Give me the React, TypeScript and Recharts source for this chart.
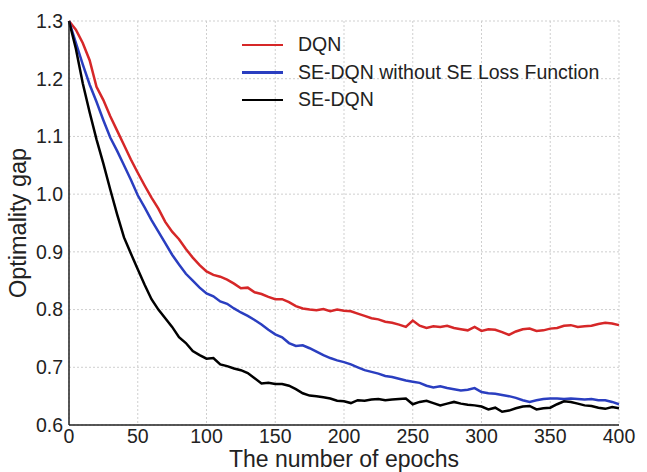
import {
  LineChart,
  Line,
  XAxis,
  YAxis,
  CartesianGrid,
} from "recharts";

const epochs = Array.from({ length: 81 }, (_, i) => i * 5);

const dqn = [
  1.3, 1.285, 1.262, 1.232, 1.186, 1.163, 1.135, 1.11, 1.085, 1.06, 1.037, 1.015, 0.994, 0.975, 0.952, 0.935,
  0.922, 0.905, 0.89, 0.877, 0.866, 0.86, 0.857, 0.852, 0.845, 0.837, 0.838, 0.83, 0.827, 0.822, 0.818, 0.818,
  0.813, 0.806, 0.802, 0.8, 0.799, 0.801, 0.797, 0.8, 0.798, 0.797, 0.793, 0.789, 0.785, 0.783, 0.779, 0.777,
  0.774, 0.77, 0.781, 0.772, 0.768, 0.771, 0.77, 0.772, 0.768, 0.766, 0.764, 0.77, 0.763, 0.766, 0.765, 0.761,
  0.756, 0.762, 0.766, 0.767, 0.763, 0.764, 0.767, 0.768, 0.772, 0.773, 0.77, 0.771, 0.772, 0.775, 0.777, 0.776,
  0.773,
];

const seDqnNoLoss = [
  1.3, 1.262, 1.225, 1.19, 1.16, 1.128, 1.098, 1.075, 1.05, 1.025, 0.998, 0.977, 0.955, 0.935, 0.915, 0.895,
  0.878, 0.862, 0.85, 0.838, 0.828, 0.823, 0.814, 0.81, 0.802, 0.795, 0.789, 0.782, 0.774, 0.765, 0.757, 0.752,
  0.742, 0.737, 0.738, 0.733, 0.727, 0.721, 0.716, 0.712, 0.709, 0.705, 0.7, 0.695, 0.692, 0.689, 0.685, 0.683,
  0.68, 0.677, 0.675, 0.673, 0.668, 0.665, 0.667, 0.664, 0.662, 0.66, 0.661, 0.664, 0.657, 0.655, 0.654, 0.652,
  0.65, 0.647, 0.643, 0.64, 0.643, 0.645, 0.646, 0.646, 0.645, 0.646, 0.645, 0.644, 0.645, 0.643, 0.643, 0.64,
  0.636,
];

const seDqn = [
  1.3, 1.252, 1.192, 1.142, 1.095, 1.053, 1.008, 0.965, 0.925, 0.897, 0.87, 0.843, 0.818, 0.8, 0.785, 0.77,
  0.752, 0.742, 0.728, 0.721, 0.715, 0.716, 0.705, 0.702, 0.698, 0.695, 0.69, 0.681, 0.672, 0.673, 0.671, 0.671,
  0.668, 0.662, 0.655, 0.651, 0.65, 0.648, 0.646, 0.642, 0.641, 0.638, 0.643, 0.642, 0.644, 0.645, 0.643, 0.644,
  0.645, 0.646, 0.636, 0.64, 0.642, 0.638, 0.634, 0.637, 0.64, 0.637, 0.635, 0.634, 0.632, 0.627, 0.63, 0.623,
  0.625, 0.629, 0.632, 0.633, 0.627, 0.629, 0.63, 0.636, 0.641, 0.64, 0.637, 0.634, 0.633, 0.63, 0.628, 0.631,
  0.629,
];

const xTicks = [0, 50, 100, 150, 200, 250, 300, 350, 400];
const yTicks = [0.6, 0.7, 0.8, 0.9, 1.0, 1.1, 1.2, 1.3];

const series = [
  { key: "dqn", name: "DQN", color: "#d62728" },
  { key: "noLoss", name: "SE-DQN without SE Loss Function", color: "#2a3ec0" },
  { key: "se", name: "SE-DQN", color: "#000000" },
];

const FONT = "'Liberation Sans', Arial, sans-serif";

const data = epochs.map((e, i) => ({
  epoch: e,
  dqn: dqn[i],
  noLoss: seDqnNoLoss[i],
  se: seDqn[i],
}));

// legend drawn over the plot so it doesn't shrink the chart area
function LegendBox() {
  return (
    <div
      style={{
        position: "absolute",
        left: 242,
        top: 31,
        fontFamily: FONT,
        fontSize: 19.5,
        color: "#222",
        pointerEvents: "none",
      }}
    >
      {series.map((s) => (
        <div key={s.key} style={{ display: "flex", alignItems: "center", height: 27.5 }}>
          <div style={{ width: 41, height: 2.5, background: s.color, marginRight: 15 }} />
          <span>{s.name}</span>
        </div>
      ))}
    </div>
  );
}

export default function App() {
  return (
    <div style={{ position: "absolute", left: 0, top: 0, width: 647, height: 472, background: "#fff" }}>
      <LineChart
        width={647}
        height={472}
        data={data}
        margin={{ top: 21, right: 28, left: 0, bottom: 0 }}
      >
        <CartesianGrid stroke="#cfcfcf" strokeDasharray="2 2" />
        <XAxis
          dataKey="epoch"
          type="number"
          domain={[0, 400]}
          ticks={xTicks}
          height={47}
          stroke="#222"
          strokeWidth={1.5}
          tickLine={false}
          tick={{ fill: "#222", fontSize: 19.5, fontFamily: FONT }}
          tickMargin={-2}
          label={{
            value: "The number of epochs",
            position: "insideBottom",
            offset: 5,
            fill: "#222",
            fontSize: 23,
            fontFamily: FONT,
          }}
        />
        <XAxis
          xAxisId="top"
          orientation="top"
          dataKey="epoch"
          type="number"
          domain={[0, 400]}
          height={0}
          tick={false}
          tickLine={false}
          stroke="#222"
          strokeWidth={1.5}
        />
        <YAxis
          type="number"
          domain={[0.6, 1.3]}
          ticks={yTicks}
          width={69}
          stroke="#222"
          strokeWidth={1.5}
          tickLine={false}
          tickFormatter={(v: number) => v.toFixed(1)}
          tick={{ fill: "#222", fontSize: 19.5, fontFamily: FONT }}
          tickMargin={0}
          label={{
            value: "Optimality gap",
            angle: -90,
            position: "insideLeft",
            offset: 18,
            style: { textAnchor: "middle" },
            fill: "#222",
            fontSize: 23.5,
            fontFamily: FONT,
          }}
        />
        <YAxis
          yAxisId="right"
          orientation="right"
          domain={[0.6, 1.3]}
          width={0}
          tick={false}
          tickLine={false}
          stroke="#222"
          strokeWidth={1.5}
        />
        {series.map((s) => (
          <Line
            key={s.key}
            type="linear"
            dataKey={s.key}
            name={s.name}
            stroke={s.color}
            strokeWidth={2.5}
            dot={false}
            isAnimationActive={false}
          />
        ))}
      </LineChart>
      <LegendBox />
    </div>
  );
}
